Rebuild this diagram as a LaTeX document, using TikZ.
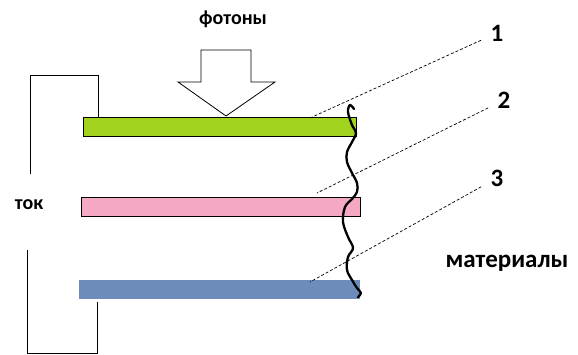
\documentclass[tikz,border=0pt]{standalone}
\usepackage{fontspec}
\setmainfont{Carlito}
\usetikzlibrary{positioning, calc}

\definecolor{layergreen}{RGB}{160,210,30}
\definecolor{layerpink}{RGB}{245,168,196}
\definecolor{layerblue}{RGB}{110,140,186}

\begin{document}
\begin{tikzpicture}[x=1pt, y=-1pt,
    layer/.style={rectangle, inner sep=0pt, minimum height=19pt, anchor=north west},
    lbl/.style={font=\bfseries\fontsize{20}{24}\selectfont, inner sep=4pt},
    num/.style={font=\bfseries\fontsize{25}{28}\selectfont, inner sep=4pt},
    leader/.style={densely dashed, line width=0.7pt, shorten <=6pt},
    wire/.style={line width=1pt}]
\useasboundingbox (0,0) rectangle (578,355);

% Layers
\node[layer, fill=layergreen, draw=black, line width=0.9pt, minimum width=273pt] (top) at (83,117) {};
\node[layer, fill=layerpink, draw=black, line width=0.9pt, minimum width=279pt] (mid) at (81,197) {};
\node[layer, fill=layerblue, minimum width=281pt] (bot) at (79,280) {};

% Photons arrow
\node[lbl] (photons) at (233,19) {фотоны};
\draw[fill=white, line width=0.8pt] (201,50) -- (251,50) -- (251,82) -- (275,82) -- (226,116)
    -- (178,82) -- (201,82) -- cycle;

% Current circuit
\node[lbl] (current) at (29,205) {ток};
\draw[wire] ([xshift=15pt]top.north west) -- ++(0,-41) -| (30,174);
\draw[wire] ([xshift=18pt, yshift=-3pt]bot.south west) |- (27,353) -- (27,250);

% Boundary line
\draw[line width=2.3pt, line cap=round, line join=round] plot[smooth, tension=0.6] coordinates {
    (354,109) (350,105) (348,112) (352,125) (356,133) (352,142) (347,152) (347,162)
    (352,173) (357,183) (357,192) (352,199) (345,207) (343,222) (348,237) (353,248)
    (348,257) (347,270) (352,280) (357,288) (361,293) (358,297)};

% Numbered labels
\node[num] (n1) at (497,33) {1};
\node[num] (n2) at (504,100) {2};
\node[num] (n3) at (497,178) {3};
\coordinate (p1) at (310,118);
\coordinate (p2) at (317,193);
\coordinate (p3) at (310,282);
\draw[leader] (n1) -- (p1);
\draw[leader] (n2) -- (p2);
\draw[leader] (n3) -- (p3);

\node[lbl, font=\bfseries\fontsize{25}{30}\selectfont] (materials) at (507,263) {материалы};
\end{tikzpicture}
\end{document}
